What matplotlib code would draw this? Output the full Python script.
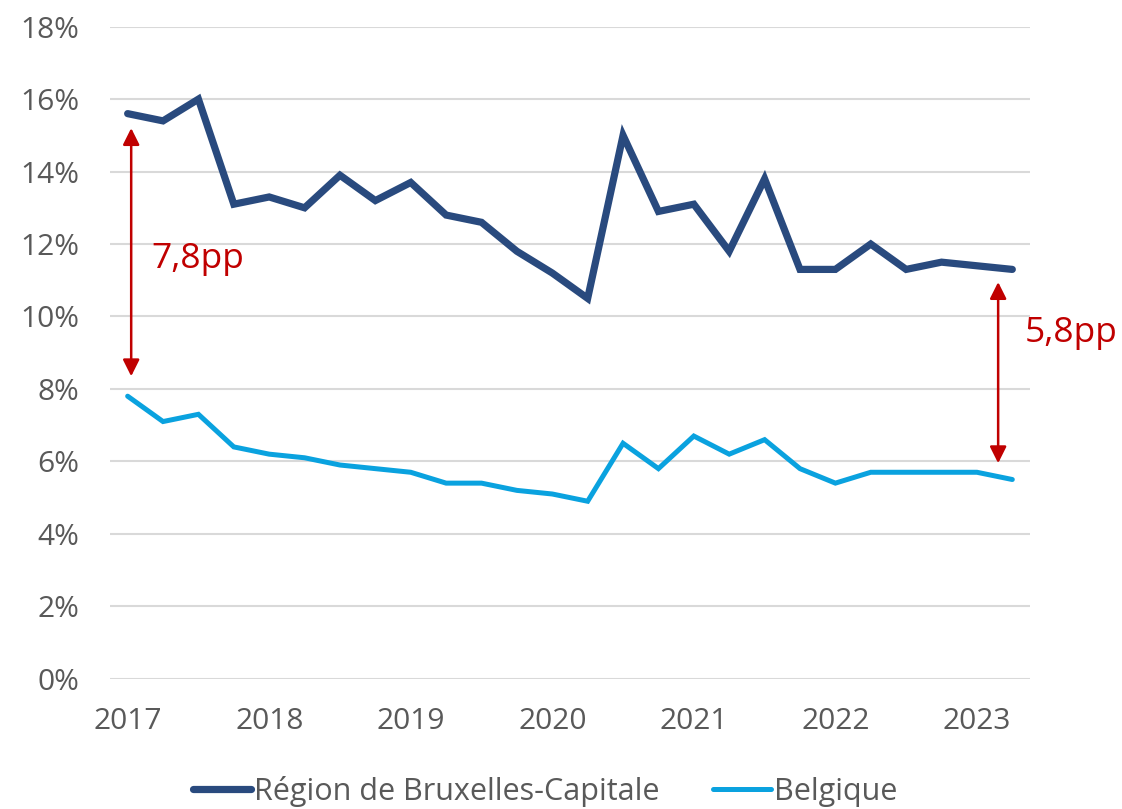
import numpy as np
import matplotlib
matplotlib.use('Agg')
import matplotlib.pyplot as plt

plt.rcParams['font.family'] = ['Open Sans', 'DejaVu Sans']

quarters = ["2017Q1", "2017Q2", "2017Q3", "2017Q4",
            "2018Q1", "2018Q2", "2018Q3", "2018Q4",
            "2019Q1", "2019Q2", "2019Q3", "2019Q4",
            "2020Q1", "2020Q2", "2020Q3", "2020Q4",
            "2021Q1", "2021Q2", "2021Q3", "2021Q4",
            "2022Q1", "2022Q2", "2022Q3", "2022Q4",
            "2023Q1", "2023Q2"]
bruxelles = [15.6, 15.4, 16.0, 13.1, 13.3, 13.0, 13.9, 13.2,
             13.7, 12.8, 12.6, 11.8, 11.2, 10.5, 15.0, 12.9,
             13.1, 11.8, 13.8, 11.3, 11.3, 12.0, 11.3, 11.5,
             11.4, 11.3]
belgique = [7.8, 7.1, 7.3, 6.4, 6.2, 6.1, 5.9, 5.8,
            5.7, 5.4, 5.4, 5.2, 5.1, 4.9, 6.5, 5.8,
            6.7, 6.2, 6.6, 5.8, 5.4, 5.7, 5.7, 5.7,
            5.7, 5.5]
year_labels = ["2017", "2018", "2019", "2020", "2021", "2022", "2023"]

grey = '#595959'
red = '#C00000'

fig = plt.figure(figsize=(11.22, 8.09), dpi=100)
ax = fig.add_axes([0.098, 0.161, 0.82, 0.806])

x = np.arange(len(quarters))
ax.plot(x, bruxelles, color='#294A7E', lw=5.2, solid_capstyle='round',
        solid_joinstyle='miter', label='Région de Bruxelles-Capitale', zorder=3)
ax.plot(x, belgique, color='#0AA2DF', lw=3.6, solid_capstyle='round',
        solid_joinstyle='miter', label='Belgique', zorder=3)

# écart en points de pourcentage
ax.annotate('', xy=(0.1, 15.2), xytext=(0.1, 8.35),
            arrowprops=dict(arrowstyle='<|-|>', color=red, lw=1.8,
                            mutation_scale=25, shrinkA=0, shrinkB=0))
ax.annotate('', xy=(24.6, 10.95), xytext=(24.6, 5.95),
            arrowprops=dict(arrowstyle='<|-|>', color=red, lw=1.8,
                            mutation_scale=25, shrinkA=0, shrinkB=0))
ax.text(0.68, 11.6, '7,8pp', color=red, fontsize=25.5, va='center', ha='left')
ax.text(25.35, 9.55, '5,8pp', color=red, fontsize=25.5, va='center', ha='left',
        clip_on=False)

ax.set_xlim(-0.5, 25.5)
ax.set_ylim(0, 18)
ax.set_yticks(np.arange(0, 19, 2))
ax.set_yticklabels(['{}%'.format(v) for v in range(0, 19, 2)])
ax.set_xticks(x[::4])
ax.set_xticklabels(year_labels)
ax.tick_params(length=0, labelsize=21.5, colors=grey)
ax.tick_params(axis='x', pad=20)
ax.tick_params(axis='y', pad=22)
ax.grid(axis='y', color='#D9D9D9', lw=1.5)
ax.set_axisbelow(True)
for s in ax.spines.values():
    s.set_visible(False)

leg = fig.legend(loc='center', bbox_to_anchor=(0.486, 0.022), ncol=2, frameon=False,
                 fontsize=22, handlelength=1.9, handletextpad=0.1, columnspacing=1.75)
for t in leg.get_texts():
    t.set_color(grey)

fig.savefig('out.png', dpi=100)
